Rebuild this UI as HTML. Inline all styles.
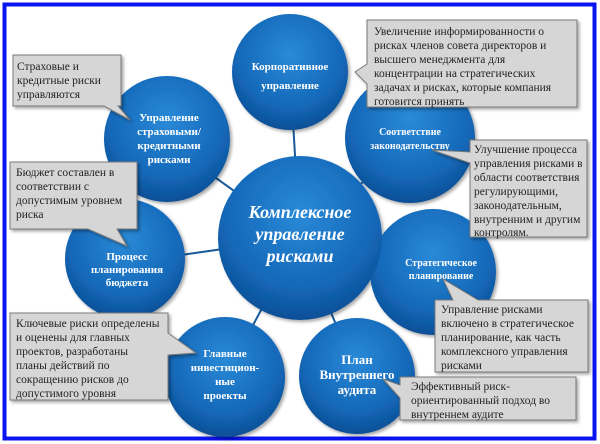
<!DOCTYPE html>
<html><head><meta charset="utf-8"><style>
html,body{margin:0;padding:0;background:#fff;width:600px;height:444px;overflow:hidden}
svg{display:block}
.c{font-family:"Liberation Serif",serif;font-weight:bold;fill:#fff;text-anchor:middle}
.t{font-family:"Liberation Serif",serif;font-size:11.5px;fill:#222}
.b{fill:#d6d6d6;stroke:#7a7a7a;stroke-width:1}
</style></head><body>
<svg width="600" height="444" viewBox="0 0 600 444" xmlns="http://www.w3.org/2000/svg">
<defs>
<radialGradient id="g" cx="50%" cy="35%" r="65%">
<stop offset="0" stop-color="#2a8ad8"/><stop offset="0.7" stop-color="#1468b8"/><stop offset="1" stop-color="#0c4f96"/>
</radialGradient>
<filter id="s" x="-10%" y="-10%" width="130%" height="130%"><feDropShadow dx="2" dy="2" stdDeviation="1.5" flood-color="#000" flood-opacity="0.35"/></filter>
</defs>
<rect x="0" y="0" width="600" height="444" fill="#fff"/>
<rect x="4.5" y="4.5" width="590" height="434" fill="none" stroke="#0a14f0" stroke-width="4"/>
<g stroke="#1a5a9a" stroke-width="2">
<line x1="300" y1="238" x2="290" y2="72"/><line x1="300" y1="238" x2="167" y2="143"/>
<line x1="300" y1="238" x2="410" y2="140"/><line x1="300" y1="238" x2="433" y2="272"/>
<line x1="300" y1="238" x2="357" y2="375"/><line x1="300" y1="238" x2="225" y2="377"/>
<line x1="300" y1="238" x2="125" y2="263"/>
</g>
<g fill="url(#g)" filter="url(#s)">
<circle cx="290" cy="72" r="58"/><circle cx="167" cy="139" r="63"/>
<circle cx="410" cy="138" r="65"/><circle cx="433" cy="272" r="63"/>
<circle cx="357" cy="376" r="58"/><circle cx="225" cy="377" r="60"/>
<circle cx="125" cy="259" r="60"/><circle cx="300" cy="238" r="82"/>
</g>
<text class="c" font-size="11"><tspan x="290" y="70">Корпоративное</tspan><tspan x="290" y="89">управление</tspan></text>
<text class="c" font-size="11"><tspan x="169" y="121">Управление</tspan><tspan x="169" y="135">страховыми/</tspan><tspan x="169" y="149">кредитными</tspan><tspan x="169" y="163">рисками</tspan></text>
<text class="c" font-size="10"><tspan x="410" y="135">Соответствие</tspan><tspan x="410" y="149">законодательству</tspan></text>
<text class="c" font-size="10"><tspan x="441" y="266">Стратегическое</tspan><tspan x="441" y="279">планирование</tspan></text>
<text class="c" font-size="13"><tspan x="357" y="364">План</tspan><tspan x="357" y="379">Внутреннего</tspan><tspan x="357" y="394">аудита</tspan></text>
<text class="c" font-size="11"><tspan x="225" y="357">Главные</tspan><tspan x="225" y="371">инвестицион-</tspan><tspan x="225" y="385">ные</tspan><tspan x="225" y="399">проекты</tspan></text>
<text class="c" font-size="11"><tspan x="127" y="260">Процесс</tspan><tspan x="127" y="273">планирования</tspan><tspan x="127" y="286">бюджета</tspan></text>
<text class="c" font-size="18" font-style="italic"><tspan x="300" y="218">Комплексное</tspan><tspan x="300" y="240">управление</tspan><tspan x="300" y="262">рисками</tspan></text>
<g filter="url(#s)">
<polygon class="b" points="13,55 121,55 121,106 118,106 130,120 104,106 13,106"/>
<polygon class="b" points="10,162 137,162 137,229 117,229 127,246 88,229 10,229"/>
<polygon class="b" points="367,20 577,20 577,107 367,107 367,84 355,72 367,64"/>
<polygon class="b" points="470,140 587,140 587,237 470,237 470,163 432,150 470,152"/>
<polygon class="b" points="10,313 168,313 168,333 196,353 168,355 168,400 10,400"/>
<polygon class="b" points="435,300 453,300 443,279 478,300 588,300 588,372 435,372"/>
<polygon class="b" points="400,377 576,377 576,420 400,420 400,398 383,379 400,385"/>
</g>
<text class="t"><tspan x="17" y="70">Страховые и</tspan><tspan x="17" y="84">кредитные риски</tspan><tspan x="17" y="98">управляются</tspan></text>
<text class="t"><tspan x="16" y="176">Бюджет составлен в</tspan><tspan x="16" y="190">соответствии с</tspan><tspan x="16" y="204">допустимым уровнем</tspan><tspan x="16" y="218">риска</tspan></text>
<text class="t"><tspan x="374" y="35">Увеличение информированности о</tspan><tspan x="374" y="49">рисках   членов совета директоров и</tspan><tspan x="374" y="63">высшего менеджмента для</tspan><tspan x="374" y="77">концентрации на  стратегических</tspan><tspan x="374" y="91">задачах и рисках, которые компания</tspan><tspan x="374" y="105">готовится принять</tspan></text>
<text class="t"><tspan x="474" y="153">Улучшение процесса</tspan><tspan x="474" y="167">управления рисками  в</tspan><tspan x="474" y="181">области соответствия</tspan><tspan x="474" y="195">регулирующими,</tspan><tspan x="474" y="209">законодательным,</tspan><tspan x="474" y="223">внутренним и другим</tspan><tspan x="474" y="236">контролям.</tspan></text>
<text class="t"><tspan x="16" y="327">Ключевые риски определены</tspan><tspan x="16" y="341">и оценены для главных</tspan><tspan x="16" y="355">проектов, разработаны</tspan><tspan x="16" y="369">планы действий по</tspan><tspan x="16" y="383">сокращению рисков до</tspan><tspan x="16" y="397">допустимого уровня</tspan></text>
<text class="t"><tspan x="441" y="313">Управление рисками</tspan><tspan x="441" y="327">включено в стратегическое</tspan><tspan x="441" y="341">планирование, как часть</tspan><tspan x="441" y="355">комплексного управления</tspan><tspan x="441" y="369">рисками</tspan></text>
<text class="t"><tspan x="411" y="390">Эффективный риск-</tspan><tspan x="411" y="404">ориентированный подход во</tspan><tspan x="411" y="418">внутреннем аудите</tspan></text>
</svg>
</body></html>
